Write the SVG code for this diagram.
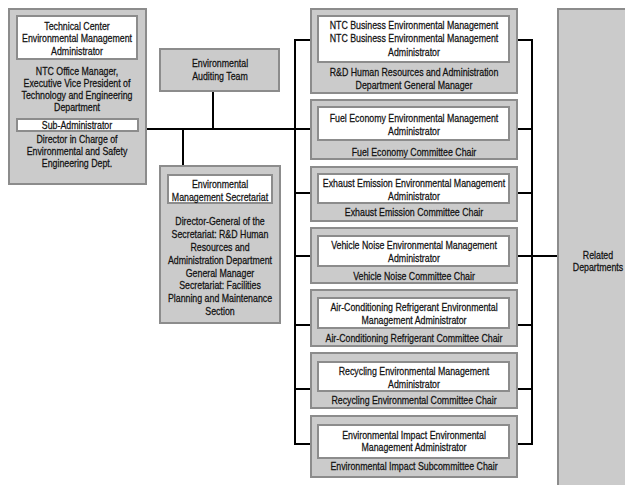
<svg xmlns="http://www.w3.org/2000/svg" width="625" height="485" viewBox="0 0 625 485">
<style>
.box{fill:#cbcbcb;stroke:#8c8c8c;stroke-width:2}
.in{fill:#ffffff;stroke:#8c8c8c;stroke-width:2}
text{font-family:"Liberation Sans","Arial",sans-serif;font-size:11px;fill:#111;text-anchor:middle;stroke:#111;stroke-width:0.25}
.ln{fill:none;stroke:#000;stroke-width:2}
</style>
<rect width="625" height="485" fill="#fff"/>
<g id="connectors">
<path class="ln" d="M147 129H312"/>
<path class="ln" d="M213 91V129"/>
<path class="ln" d="M183 129V166"/>
<path class="ln" d="M312 40H295V444H312"/>
<path class="ln" d="M295 193H312M295 256H312M295 325H312M295 389H312"/>
<path class="ln" d="M517 40H532V444H517"/>
<path class="ln" d="M517 129H532M517 193H532M517 256H532M517 325H532M517 389H532"/>
<path class="ln" d="M532 256H558"/>
</g>
<g id="technical-center">
<rect class="box" x="9" y="9" width="137" height="175"/>
<rect class="in" x="17" y="16" width="120" height="43"/>
<rect class="in" x="17" y="119" width="121" height="12"/>
<g transform="translate(77 0) scale(0.8 1)">
<text x="0" y="30">Technical Center</text>
<text x="0" y="42.5">Environmental Management</text>
<text x="0" y="55.5">Administrator</text>
<text x="0" y="75.5">NTC Office Manager,</text>
<text x="0" y="87.5">Executive Vice President of</text>
<text x="0" y="99.5">Technology and Engineering</text>
<text x="0" y="111.5">Department</text>
<text x="0" y="129">Sub-Administrator</text>
<text x="0" y="143.5">Director in Charge of</text>
<text x="0" y="155.5">Environmental and Safety</text>
<text x="0" y="167.5">Engineering Dept.</text>
</g>
</g>
<g id="auditing-team">
<rect class="box" x="160" y="49" width="119" height="42"/>
<g transform="translate(220 0) scale(0.8 1)">
<text x="0" y="67.5">Environmental</text>
<text x="0" y="80.5">Auditing Team</text>
</g>
</g>
<g id="secretariat">
<rect class="box" x="160" y="166" width="120" height="157"/>
<rect class="in" x="168" y="175" width="104" height="28"/>
<g transform="translate(220 0) scale(0.8 1)">
<text x="0" y="188.5">Environmental</text>
<text x="0" y="201.5">Management Secretariat</text>
<text x="0" y="225.5">Director-General of the</text>
<text x="0" y="238.3">Secretariat: R&amp;D Human</text>
<text x="0" y="251.1">Resources and</text>
<text x="0" y="263.9">Administration Department</text>
<text x="0" y="276.7">General Manager</text>
<text x="0" y="289.5">Secretariat: Facilities</text>
<text x="0" y="302.3">Planning and Maintenance</text>
<text x="0" y="315.1">Section</text>
</g>
</g>
<g id="ntc-business">
<rect class="box" x="311" y="9" width="206" height="84"/>
<rect class="in" x="318" y="16" width="191" height="46"/>
<g transform="translate(414 0) scale(0.8 1)">
<text x="0" y="29.5">NTC Business Environmental Management</text>
<text x="0" y="42.5">NTC Business Environmental Management</text>
<text x="0" y="56.5">Administrator</text>
<text x="0" y="76.5">R&amp;D Human Resources and Administration</text>
<text x="0" y="89.5">Department General Manager</text>
</g>
</g>
<g id="fuel-economy">
<rect class="box" x="311" y="100" width="206" height="59"/>
<rect class="in" x="318" y="107" width="191" height="33"/>
<g transform="translate(414 0) scale(0.8 1)">
<text x="0" y="122.5">Fuel Economy Environmental Management</text>
<text x="0" y="135.5">Administrator</text>
<text x="0" y="156.5">Fuel Economy Committee Chair</text>
</g>
</g>
<g id="exhaust-emission">
<rect class="box" x="311" y="167" width="206" height="54"/>
<rect class="in" x="318" y="174" width="191" height="29"/>
<g transform="translate(414 0) scale(0.8 1)">
<text x="0" y="187.5">Exhaust Emission Environmental Management</text>
<text x="0" y="200.5">Administrator</text>
<text x="0" y="216.5">Exhaust Emission Committee Chair</text>
</g>
</g>
<g id="vehicle-noise">
<rect class="box" x="311" y="228" width="206" height="55"/>
<rect class="in" x="318" y="236" width="191" height="30"/>
<g transform="translate(414 0) scale(0.8 1)">
<text x="0" y="249.5">Vehicle Noise Environmental Management</text>
<text x="0" y="262.5">Administrator</text>
<text x="0" y="280.5">Vehicle Noise Committee Chair</text>
</g>
</g>
<g id="air-conditioning">
<rect class="box" x="311" y="290" width="206" height="56"/>
<rect class="in" x="318" y="298" width="191" height="30"/>
<g transform="translate(414 0) scale(0.8 1)">
<text x="0" y="311.5">Air-Conditioning Refrigerant Environmental</text>
<text x="0" y="324.5">Management Administrator</text>
<text x="0" y="342.5">Air-Conditioning Refrigerant Committee Chair</text>
</g>
</g>
<g id="recycling">
<rect class="box" x="311" y="353" width="206" height="55"/>
<rect class="in" x="318" y="362" width="191" height="29"/>
<g transform="translate(414 0) scale(0.8 1)">
<text x="0" y="375.5">Recycling Environmental Management</text>
<text x="0" y="388.5">Administrator</text>
<text x="0" y="404.5">Recycling Environmental Committee Chair</text>
</g>
</g>
<g id="environmental-impact">
<rect class="box" x="311" y="416" width="206" height="61"/>
<rect class="in" x="318" y="425" width="191" height="33"/>
<g transform="translate(414 0) scale(0.8 1)">
<text x="0" y="439.5">Environmental Impact Environmental</text>
<text x="0" y="451.5">Management Administrator</text>
<text x="0" y="470.5">Environmental Impact Subcommittee Chair</text>
</g>
</g>
<g id="related-departments">
<rect class="box" x="558" y="9" width="90" height="490"/>
<g transform="translate(598 0) scale(0.8 1)">
<text x="0" y="259.5">Related</text>
<text x="0" y="271.5">Departments</text>
</g>
</g>
</svg>
